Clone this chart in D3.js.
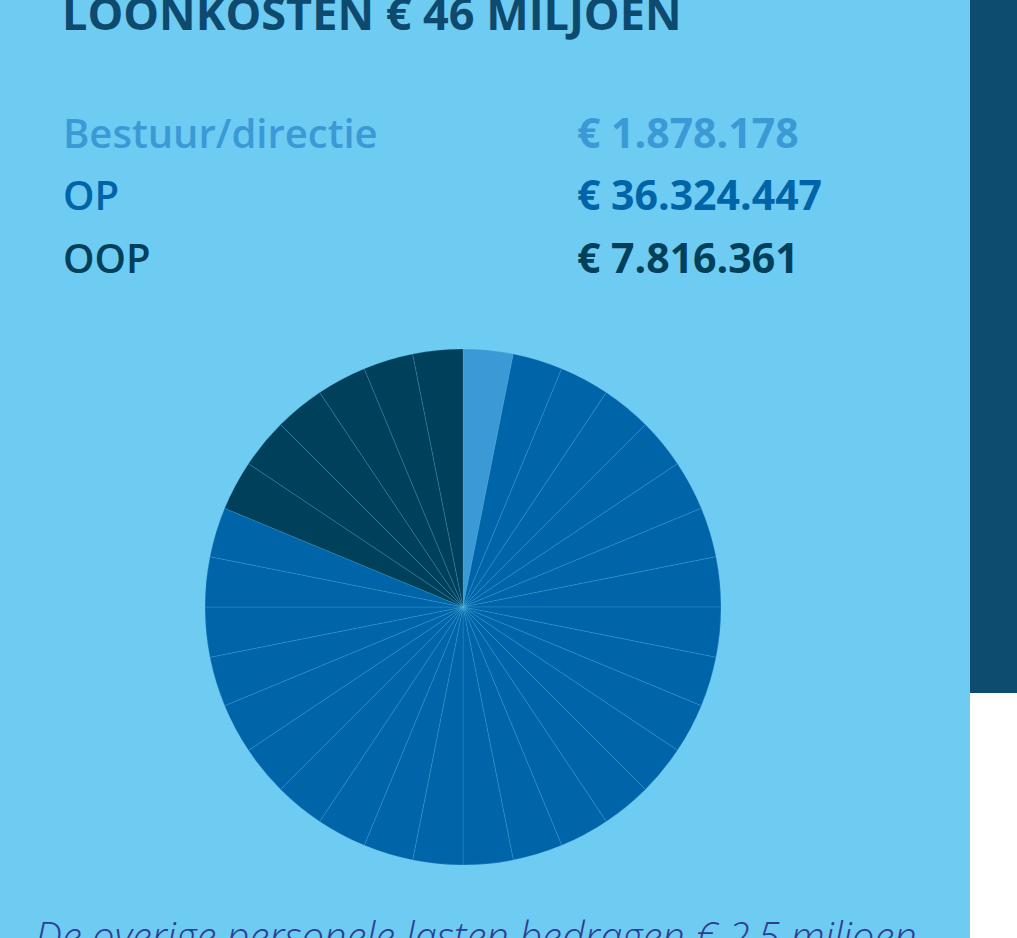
<!DOCTYPE html>
<html>
<head>
<meta charset="utf-8">
<title>Loonkosten</title>
<script src="https://d3js.org/d3.v7.min.js"></script>
<style>
 body { margin: 0; background: #ffffff; }
 svg { display: block; font-family: "Open Sans", sans-serif; }
</style>
</head>
<body>
<div id="chart"></div>
<script>
 // data
 var categories = ["Bestuur/directie", "OP", "OOP"];
 var amounts = ["€ 1.878.178", "€ 36.324.447", "€ 7.816.361"];
 var units = [1, 25, 6];   // number of equal pie wedges per category
 var colors = ["#3b9ad6", "#0064a8", "#01405b"];
 var title = "LOONKOSTEN € 46 MILJOEN";
 var footnote = "De overige personele lasten bedragen € 2,5 miljoen";

 var width = 1017, height = 938;
 var svg = d3.select("#chart").append("svg")
  .attr("width", width).attr("height", height);

 // backgrounds
 svg.append("rect").attr("x", 0).attr("y", 0)
  .attr("width", 970).attr("height", height).attr("fill", "#6ecbf2");
 svg.append("rect").attr("x", 970).attr("y", 0)
  .attr("width", width - 970).attr("height", 693).attr("fill", "#0e4c6f");

 svg.append("text")
  .attr("x", 62).attr("y", 30)
  .attr("font-size", 45).attr("font-weight", 700)
  .attr("fill", "#0d4a6d")
  .text(title);

 // legend rows
 var rowY = d3.scaleBand().domain(categories).range([105, 292]);
 var legend = svg.selectAll("g.row")
  .data(categories)
  .enter().append("g")
  .attr("class", "row")
  .attr("transform", function(d) { return "translate(0," + (rowY(d) + 43) + ")"; });
 legend.append("text")
  .attr("x", 63)
  .attr("font-size", 40).attr("font-weight", 600)
  .attr("fill", function(d, i) { return colors[i]; })
  .text(function(d) { return d; });
 legend.append("text")
  .attr("x", 577)
  .attr("font-size", 41).attr("font-weight", 700)
  .attr("fill", function(d, i) { return colors[i]; })
  .text(function(d, i) { return amounts[i]; });

 // expand categories into equal wedges
 var wedges = [];
 categories.forEach(function(c, i) {
  d3.range(units[i]).forEach(function() { wedges.push({cat: i}); });
 });

 var pie = d3.pie().value(1).sort(null);
 var arc = d3.arc().innerRadius(0).outerRadius(258);

 var g = svg.append("g").attr("transform", "translate(463,607)");
 g.selectAll("path")
  .data(pie(wedges))
  .enter().append("path")
  .attr("d", arc)
  .attr("fill", function(d) { return colors[d.data.cat]; })
  .attr("stroke", "rgba(110,203,242,0.3)")
  .attr("stroke-width", 0.6);

 svg.append("text")
  .attr("x", 35).attr("y", 951)
  .attr("font-size", 40).attr("font-weight", 300)
  .attr("font-style", "italic")
  .attr("fill", "#2c3f90")
  .text(footnote);
</script>
</body>
</html>
